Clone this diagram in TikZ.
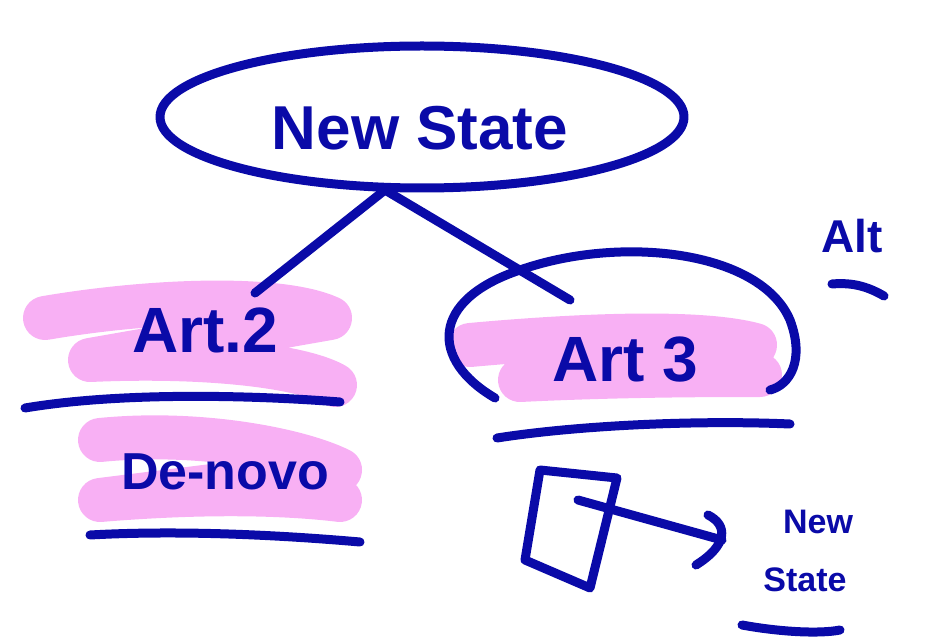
\documentclass[tikz,border=0pt]{standalone}
\usepackage{fontspec}
\setmainfont{Liberation Sans}
\usetikzlibrary{arrows.meta,shapes.geometric}
\definecolor{pen}{RGB}{10,10,168}
\definecolor{hl}{RGB}{248,176,244}
\tikzset{
  ink/.style={draw=pen, line width=9pt, line cap=round, line join=round},
  marker/.style={draw=hl, line width=44pt, line cap=round, line join=round},
  lbl/.style={text=pen, font=\bfseries, inner sep=0pt},
}
\begin{document}
\begin{tikzpicture}[x=1pt,y=-1pt]
\useasboundingbox (0,0) rectangle (941,644);
% highlights
\draw[marker] (45,318) .. controls (150,300) and (280,295) .. (330,318) -- (90,360) .. controls (200,355) and (300,365) .. (335,385);
\draw[marker] (100,440) .. controls (200,430) and (300,450) .. (340,470) -- (100,500) .. controls (220,490) and (300,495) .. (340,500);
\draw[marker] (470,345) .. controls (580,335) and (700,330) .. (755,345) -- (520,380) .. controls (620,375) and (720,375) .. (760,375);
% ellipses
\node[ink, ellipse, minimum width=524pt, minimum height=142pt, draw] (ns) at (422,117) {};
\node[lbl, font=\bfseries\fontsize{62}{62}\selectfont] (nst) at (420,128) {New State};
\draw[ink] (495,398) .. controls (430,360) and (430,300) .. (520,270) .. controls (620,235) and (760,250) .. (790,320) .. controls (805,360) and (790,385) .. (770,390);
% texts
\node[lbl, font=\bfseries\fontsize{64}{64}\selectfont] (a2) at (205,330) {Art.2};
\node[lbl, font=\bfseries\fontsize{52}{52}\selectfont] (dn) at (225,472) {De-novo};
\node[lbl, font=\bfseries\fontsize{64}{64}\selectfont] (a3) at (625,360) {Art 3};
\node[lbl, font=\bfseries\fontsize{46}{46}\selectfont] (alt) at (852,236) {Alt};
\node[lbl, font=\bfseries\fontsize{34}{34}\selectfont] (new2) at (818,522) {New};
\node[lbl, font=\bfseries\fontsize{34}{34}\selectfont] (st2) at (805,580) {State};
% connectors
\coordinate (root) at (385,190);
\coordinate (a2top) at (255,293);
\coordinate (a3top) at (570,300);
\draw[ink] (root) -- (a2top);
\draw[ink] (root) -- (a3top);
% underlines
\draw[ink] (25,408) .. controls (120,392) and (250,395) .. (340,402);
\draw[ink] (90,535) .. controls (180,530) and (280,535) .. (360,542);
\draw[ink] (497,438) .. controls (580,425) and (700,420) .. (790,424);
\draw[ink] (832,284) .. controls (855,282) and (870,288) .. (884,296);
\draw[ink] (742,625) .. controls (780,632) and (820,634) .. (840,630);
% square and arrow
\draw[ink] (540,470) -- (617,478) -- (590,588) -- (525,560) -- cycle;
\coordinate (sq) at (578,500);
\coordinate (tip) at (722,540);
\draw[ink] (sq) -- (tip);
\draw[ink] (708,515) .. controls (728,525) and (728,545) .. (696,565);
\end{tikzpicture}
\end{document}
